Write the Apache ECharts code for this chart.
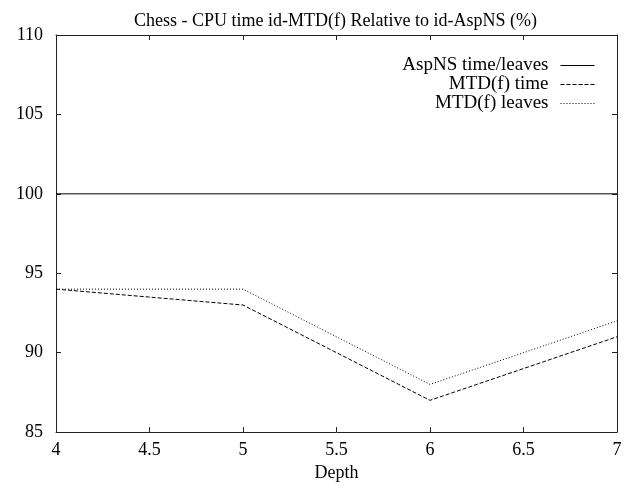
<!DOCTYPE html>
<html><head><meta charset="utf-8">
<script src="https://cdn.jsdelivr.net/npm/echarts@6/dist/echarts.min.js"></script>
<style>html,body{margin:0;padding:0;background:#fff}#c{width:625px;height:487px}</style>
</head><body><div id="c"></div>
<script>
var depths = [4, 5, 6, 7];
var aspnsTime = [100, 100, 100, 100];
var mtdTime = [94, 93, 87, 91];
var mtdLeaves = [94, 94, 88, 92];
var seriesNames = ['AspNS time/leaves', 'MTD(f) time', 'MTD(f) leaves'];
var titleText = 'Chess - CPU time id-MTD(f) Relative to id-AspNS (%)';
var xName = 'Depth';

function pairs(v){ return depths.map(function(d,i){ return [d, v[i]]; }); }
var font = 'Liberation Serif, Times New Roman, serif';
var chart = echarts.init(document.getElementById('c'));
function axisCommon(margin){
  return {
    axisLine: {show: true, lineStyle: {color: '#222', width: 1}},
    axisTick: {show: true, inside: true, length: 5, lineStyle: {color: '#222'}},
    splitLine: {show: false},
    axisLabel: {color: '#000', fontFamily: font, fontSize: 18, margin: margin}
  };
}
function hidden(){ var a = axisCommon(8); a.axisLabel = {show: false}; return a; }
chart.setOption({
  animation: false,
  title: {text: titleText, left: 129, top: 7,
    textStyle: {fontFamily: font, fontSize: 18, fontWeight: 'normal', color: '#000'}},
  grid: {left: 56, right: 8, top: 35, bottom: 51},
  legend: {
    orient: 'vertical', right: 25, top: 51, align: 'right',
    itemWidth: 34, itemHeight: 14, itemGap: 0,
    itemStyle: {opacity: 0},
    lineStyle: {width: 1},
    textStyle: {fontFamily: font, fontSize: 19, color: '#000', padding: [0, 7, 0, 0]},
    data: seriesNames
  },
  xAxis: [Object.assign({type: 'value', min: 4, max: 7, interval: 0.5, position: 'bottom',
    name: xName, nameLocation: 'middle', nameGap: 27,
    nameTextStyle: {fontFamily: font, fontSize: 18, color: '#000'}}, axisCommon(9)),
    Object.assign({type: 'value', min: 4, max: 7, interval: 0.5, position: 'top'}, hidden())],
  yAxis: [Object.assign({type: 'value', min: 85, max: 110, interval: 5, position: 'left'}, axisCommon(13)),
    Object.assign({type: 'value', min: 85, max: 110, interval: 5, position: 'right'}, hidden())],
  series: [
    {name: seriesNames[0], type: 'line', data: pairs(aspnsTime), symbol: 'none',
      lineStyle: {color: '#000', width: 1, type: 'solid'}, itemStyle: {color: '#000'}},
    {name: seriesNames[1], type: 'line', data: pairs(mtdTime), symbol: 'none',
      lineStyle: {color: '#000', width: 1, type: [4, 2]}, itemStyle: {color: '#000'}},
    {name: seriesNames[2], type: 'line', data: pairs(mtdLeaves), symbol: 'none',
      lineStyle: {color: '#000', width: 1, type: [1, 2]}, itemStyle: {color: '#000'}}
  ]
});
</script></body></html>
